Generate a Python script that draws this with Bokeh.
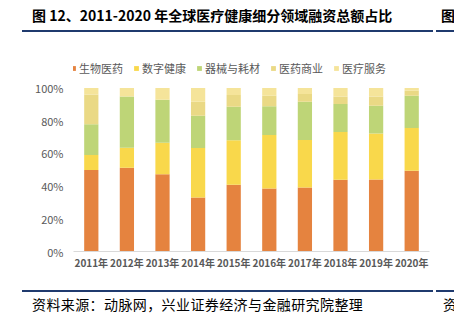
from bokeh.plotting import figure
from bokeh.layouts import column
from bokeh.models import (ColumnDataSource, FactorRange, Range1d, Legend, LegendItem, Div,
                          FixedTicker, CustomJSTickFormatter)
from bokeh.embed import file_html
from bokeh.resources import INLINE

years = ["2011年", "2012年", "2013年", "2014年", "2015年", "2016年", "2017年", "2018年", "2019年", "2020年"]
series = ["生物医药", "数字健康", "器械与耗材", "医药商业", "医疗服务"]
bio = [49.8, 51.2, 47.3, 33.0, 40.8, 38.6, 39.2, 43.9, 44.1, 49.4]
digital = [9.2, 12.3, 19.2, 30.3, 27.2, 32.6, 29.0, 29.2, 28.1, 26.1]
device = [18.8, 31.4, 26.4, 19.7, 20.6, 17.6, 23.4, 17.1, 17.0, 19.8]
commerce = [18.2, 0.0, 0.0, 8.6, 7.1, 6.5, 4.7, 4.7, 5.7, 3.1]
service = [4.0, 5.1, 7.1, 8.4, 4.3, 4.7, 3.7, 5.1, 5.1, 1.6]
y_ticks = [0, 20, 40, 60, 80, 100]

title_text = "图 12、2011-2020 年全球医疗健康细分领域融资总额占比"
source_text = "资料来源：动脉网，兴业证券经济与金融研究院整理"

colors = ["#E5833F", "#F9D84B", "#BED577", "#EAD985", "#F5E49A"]
keys = ["bio", "digital", "device", "commerce", "service"]

W = 454
TOP_H, FIG_H, BOT_H = 40, 250, 45
FL, FR = 73, 429
FRAME_TOP, FRAME_BOTTOM = 56, 251   # page px
Y_END = 119.3

NAVY = "#1F3A6E"
FONT = "'Noto Sans CJK SC', sans-serif"

top_html = f"""
<div style="position:relative;width:{W}px;height:{TOP_H}px;overflow:hidden;background:white;">
  <div style="position:absolute;left:32px;top:4px;font-family:{FONT};font-weight:bold;font-size:14px;line-height:22px;color:#000;white-space:nowrap;">{title_text}</div>
  <div style="position:absolute;left:441px;top:4px;font-family:{FONT};font-weight:bold;font-size:14px;line-height:22px;color:#000;white-space:nowrap;">图</div>
  <div style="position:absolute;left:22px;top:30px;width:411px;height:2px;background:{NAVY};"></div>
  <div style="position:absolute;left:436px;top:30px;width:18px;height:2px;background:{NAVY};"></div>
</div>"""

bot_html = f"""
<div style="position:relative;width:{W}px;height:{BOT_H}px;overflow:hidden;background:white;">
  <div style="position:absolute;left:22px;top:0px;width:411px;height:2px;background:{NAVY};"></div>
  <div style="position:absolute;left:436px;top:0px;width:18px;height:2px;background:{NAVY};"></div>
  <div style="position:absolute;left:32px;top:3px;font-family:{FONT};font-size:14px;line-height:22px;color:#000;white-space:nowrap;letter-spacing:0.4px;">{source_text}</div>
  <div style="position:absolute;left:443px;top:3px;font-family:{FONT};font-size:14px;line-height:22px;color:#000;white-space:nowrap;">资</div>
</div>"""

div_top = Div(text=top_html, width=W, height=TOP_H, margin=0)
div_bot = Div(text=bot_html, width=W, height=BOT_H, margin=0)

source = ColumnDataSource(dict(year=years, bio=bio, digital=digital, device=device,
                               commerce=commerce, service=service))

p = figure(width=W, height=FIG_H, x_range=FactorRange(*years), y_range=Range1d(0, Y_END),
           output_backend="svg", toolbar_location=None,
           min_border_left=FL, min_border_right=W - FR,
           min_border_top=FRAME_TOP - TOP_H,
           min_border_bottom=TOP_H + FIG_H - FRAME_BOTTOM, margin=0)
p.outline_line_color = None
p.grid.grid_line_color = None
p.background_fill_color = "white"
p.border_fill_color = "white"

renderers = p.vbar_stack(keys, x="year", width=0.4, color=colors, source=source,
                         line_color=None)

# axes
p.yaxis.ticker = FixedTicker(ticks=y_ticks)
p.yaxis.formatter = CustomJSTickFormatter(code="return tick + '%';")
p.yaxis.axis_line_color = None
p.yaxis.major_tick_line_color = None
p.yaxis.minor_tick_line_color = None
p.yaxis.major_tick_out = 0
p.yaxis.major_label_text_font = "Noto Sans CJK SC"
p.yaxis.major_label_text_font_size = "11px"
p.yaxis.major_label_text_color = "#595959"
p.yaxis.major_label_standoff = 10

p.xaxis.axis_line_color = "#D9D9D9"
p.xaxis.major_tick_line_color = None
p.xaxis.minor_tick_line_color = None
p.xaxis.major_tick_out = 0
p.xaxis.major_label_text_font = "Noto Sans CJK SC"
p.xaxis.major_label_text_font_size = "10px"
p.xaxis.major_label_text_font_style = "bold"
p.xaxis.major_label_text_color = "#595959"
p.xaxis.major_label_standoff = 3
p.x_range.range_padding = 0.0
p.x_range.group_padding = 0.0

# legend (inside the frame's top band)
items = [LegendItem(label=s, renderers=[r]) for s, r in zip(series, renderers)]
legend_bottom = FRAME_BOTTOM - 75.5
legend = Legend(items=items, orientation="horizontal", location=(-3, legend_bottom),
                glyph_width=6, glyph_height=6, label_standoff=3, spacing=10,
                label_text_font="Noto Sans CJK SC", label_text_font_size="11px",
                label_text_color="#595959", border_line_color=None,
                background_fill_alpha=0, padding=0, margin=0)
p.add_layout(legend, "center")

layout = column(div_top, p, div_bot, spacing=0, margin=0)

open("out.html", "w").write(file_html(layout, INLINE))
